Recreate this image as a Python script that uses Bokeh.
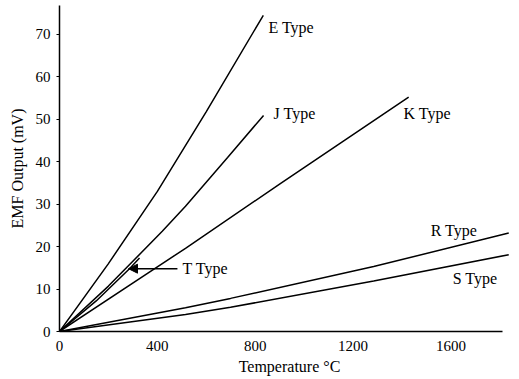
from bokeh.plotting import figure
from bokeh.models import Range1d, FixedTicker, Arrow, NormalHead, ColumnDataSource
from bokeh.core.properties import value
from bokeh.embed import file_html
from bokeh.resources import INLINE

# Thermocouple EMF curves (temperature in °C, EMF in mV)
E_temp = [0, 200, 400, 600, 833]
E_emf = [0, 16.0, 33.0, 51.8, 74.5]
J_temp = [0, 200, 420, 515, 687, 834]
J_emf = [0, 10.7, 23.6, 29.5, 41.0, 50.9]
T_temp = [0, 150, 286, 327]
T_emf = [0, 7.2, 14.8, 17.3]
K_temp = [0, 515, 904, 1427]
K_emf = [0, 19.6, 34.9, 55.2]
R_temp = [0, 515, 699, 1284, 1836]
R_emf = [0, 5.6, 7.8, 15.3, 23.2]
S_temp = [0, 515, 699, 1284, 1836]
S_emf = [0, 4.0, 5.7, 11.9, 18.1]

x_ticks = [0, 400, 800, 1200, 1600]
y_ticks = [0, 10, 20, 30, 40, 50, 60, 70]

curve_names = ["E Type", "J Type", "K Type", "R Type", "S Type", "T Type"]

FONT = "Liberation Serif"

p = figure(width=519, height=379, output_backend="svg", toolbar_location=None,
           x_range=Range1d(0, 1880), y_range=Range1d(0, 76.8),
           min_border_left=59, min_border_right=0, min_border_top=5,
           min_border_bottom=48)
p.outline_line_color = None
p.xgrid.visible = False
p.ygrid.visible = False
p.background_fill_color = "white"

for xs, ys in [(E_temp, E_emf), (J_temp, J_emf), (T_temp, T_emf),
               (K_temp, K_emf), (R_temp, R_emf), (S_temp, S_emf)]:
    p.line(xs, ys, line_color="black", line_width=1.5)

# curve labels (anchor positions in data units)
lab_x = [854, 875, 1406, 1517, 1607, 503]
lab_y = [71.6, 51.4, 51.4, 23.8, 12.5, 14.8]
src = ColumnDataSource(dict(x=lab_x, y=lab_y, t=curve_names))
p.text(x="x", y="y", text="t", source=src, text_font=value(FONT),
       text_font_size="16px", text_color="black",
       text_align="left", text_baseline="middle")

p.add_layout(Arrow(end=NormalHead(size=9, fill_color="black", line_color="black"),
                   x_start=482, y_start=14.8, x_end=282, y_end=14.8,
                   line_color="black", line_width=1.5))

xa = p.xaxis[0]
xa.ticker = FixedTicker(ticks=x_ticks)
xa.bounds = (0, 1811)
xa.axis_label = "Temperature °C"
xa.major_tick_out = 0
xa.major_tick_in = 0
xa.minor_tick_out = 0
xa.minor_tick_in = 0
xa.major_label_standoff = 9
xa.axis_label_standoff = 4

ya = p.yaxis[0]
ya.ticker = FixedTicker(ticks=y_ticks)
ya.bounds = (0, 76.8)
ya.axis_label = "EMF Output (mV)"
ya.major_tick_out = 3
ya.major_tick_in = 0
ya.minor_tick_out = 0
ya.minor_tick_in = 0
ya.major_label_standoff = 6
ya.axis_label_standoff = 7

for ax in (xa, ya):
    ax.axis_line_color = "black"
    ax.axis_line_width = 1.5
    ax.major_tick_line_color = "black"
    ax.major_label_text_font = FONT
    ax.major_label_text_font_size = "15px"
    ax.major_label_text_color = "black"
    ax.axis_label_text_font = FONT
    ax.axis_label_text_font_size = "16px"
    ax.axis_label_text_font_style = "normal"
    ax.axis_label_text_color = "black"

open("out.html", "w").write(file_html(p, INLINE))
